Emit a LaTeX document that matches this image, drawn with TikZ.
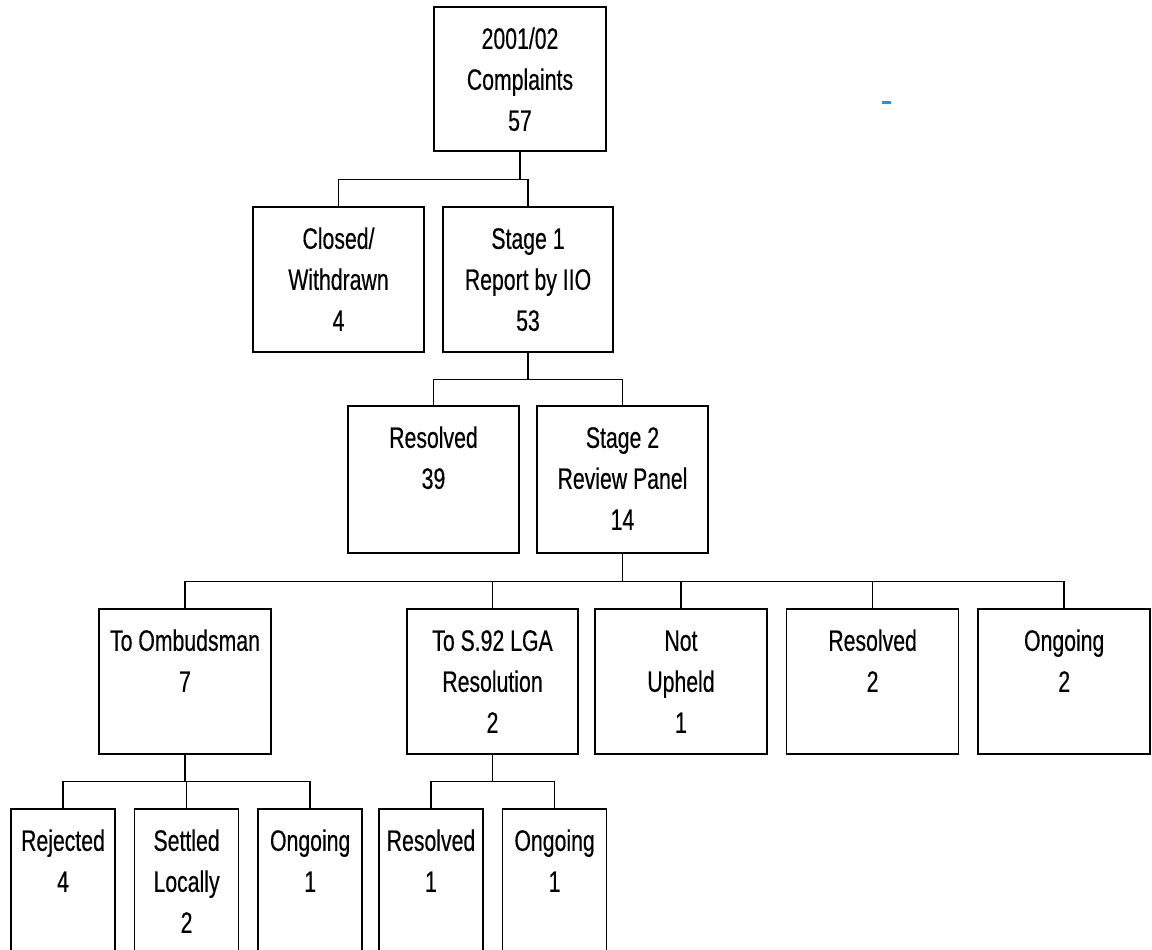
\documentclass[tikz,border=0pt]{standalone}
\usepackage{fontspec}
\setmainfont[FakeStretch=0.72, FakeBold=0.4]{Liberation Sans}
\usepackage{xcolor}
\colorlet{colorBox}{black}
\colorlet{colorLink}{black}
\definecolor{colorMark}{HTML}{0A9BFF}
\usepackage{tikz}
\usetikzlibrary{positioning}
\newcommand{\boxlines}[3]{\parbox[c][#2][t]{#1}{\centering\rule{0pt}{42pt}#3}}

\begin{document}
\begin{tikzpicture}[x=1pt, y=-1pt, line width=1.6pt, node distance=18pt, font=\fontsize{29.5}{41}\selectfont, outcome/.style={draw=colorBox, inner sep=0pt, anchor=north}]
\useasboundingbox (0,0) rectangle (1152,950);
\node[outcome] (complaints) at (520,6) {\boxlines{172pt}{144pt}{2001/02\\Complaints\\57}};
\node[outcome] (closed) at (338.5,206) {\boxlines{171pt}{145pt}{Closed/\\Withdrawn\\4}};
\node[outcome] (stage1) at (528,206) {\boxlines{170pt}{145pt}{Stage 1\\Report by IIO\\53}};
\node[outcome] (resolved39) at (433.5,405) {\boxlines{171pt}{147pt}{Resolved\\39}};
\node[outcome] (stage2) at (622.5,405) {\boxlines{171pt}{147pt}{Stage 2\\Review Panel\\14}};
\node[outcome] (ombudsman) at (185,608) {\boxlines{172pt}{145pt}{To Ombudsman\\7}};
\node[outcome] (lga) at (492.5,608) {\boxlines{171pt}{145pt}{To S.92 LGA\\Resolution\\2}};
\node[outcome] (notupheld) at (681,608) {\boxlines{172pt}{145pt}{Not\\Upheld\\1}};
\node[outcome, right=of notupheld] (resolved2) {\boxlines{172pt}{145pt}{Resolved\\2}};
\node[outcome, right=of resolved2] (ongoing2) {\boxlines{172pt}{145pt}{Ongoing\\2}};
\node[outcome] (rejected) at (63,808) {\boxlines{104pt}{152pt}{Rejected\\4}};
\node[outcome, right=of rejected] (settled) {\boxlines{104pt}{152pt}{Settled\\Locally\\2}};
\node[outcome, right=of settled] (ongoingO) {\boxlines{104pt}{152pt}{Ongoing\\1}};
\node[outcome] (resolvedL) at (431,808) {\boxlines{104pt}{152pt}{Resolved\\1}};
\node[outcome, right=of resolvedL] (ongoingL) {\boxlines{104pt}{152pt}{Ongoing\\1}};
% tree links
\draw [colorLink] (complaints.south) -- ++(0,28) -| (closed.north);
\draw [colorLink] (complaints.south) ++(0,28) -| (stage1.north);
\draw [colorLink] (stage1.south) -- ++(0,27) -| (resolved39.north);
\draw [colorLink] (stage1.south) ++(0,27) -| (stage2.north);
\draw [colorLink] (stage2.south) -- ++(0,28) -| (ombudsman.north);
\foreach \n in {lga, notupheld, resolved2, ongoing2}
  \draw [colorLink] (stage2.south) ++(0,28) -| (\n.north);
\draw [colorLink] (ombudsman.south) -- ++(0,27) -| (rejected.north);
\foreach \n in {settled, ongoingO}
  \draw [colorLink] (ombudsman.south) ++(0,27) -| (\n.north);
\draw [colorLink] (lga.south) -- ++(0,27) -| (resolvedL.north);
\draw [colorLink] (lga.south) ++(0,27) -| (ongoingL.north);
% stray mark
\draw [colorMark, line width=3pt] (882,103) -- (891,103);
\end{tikzpicture}
\end{document}
